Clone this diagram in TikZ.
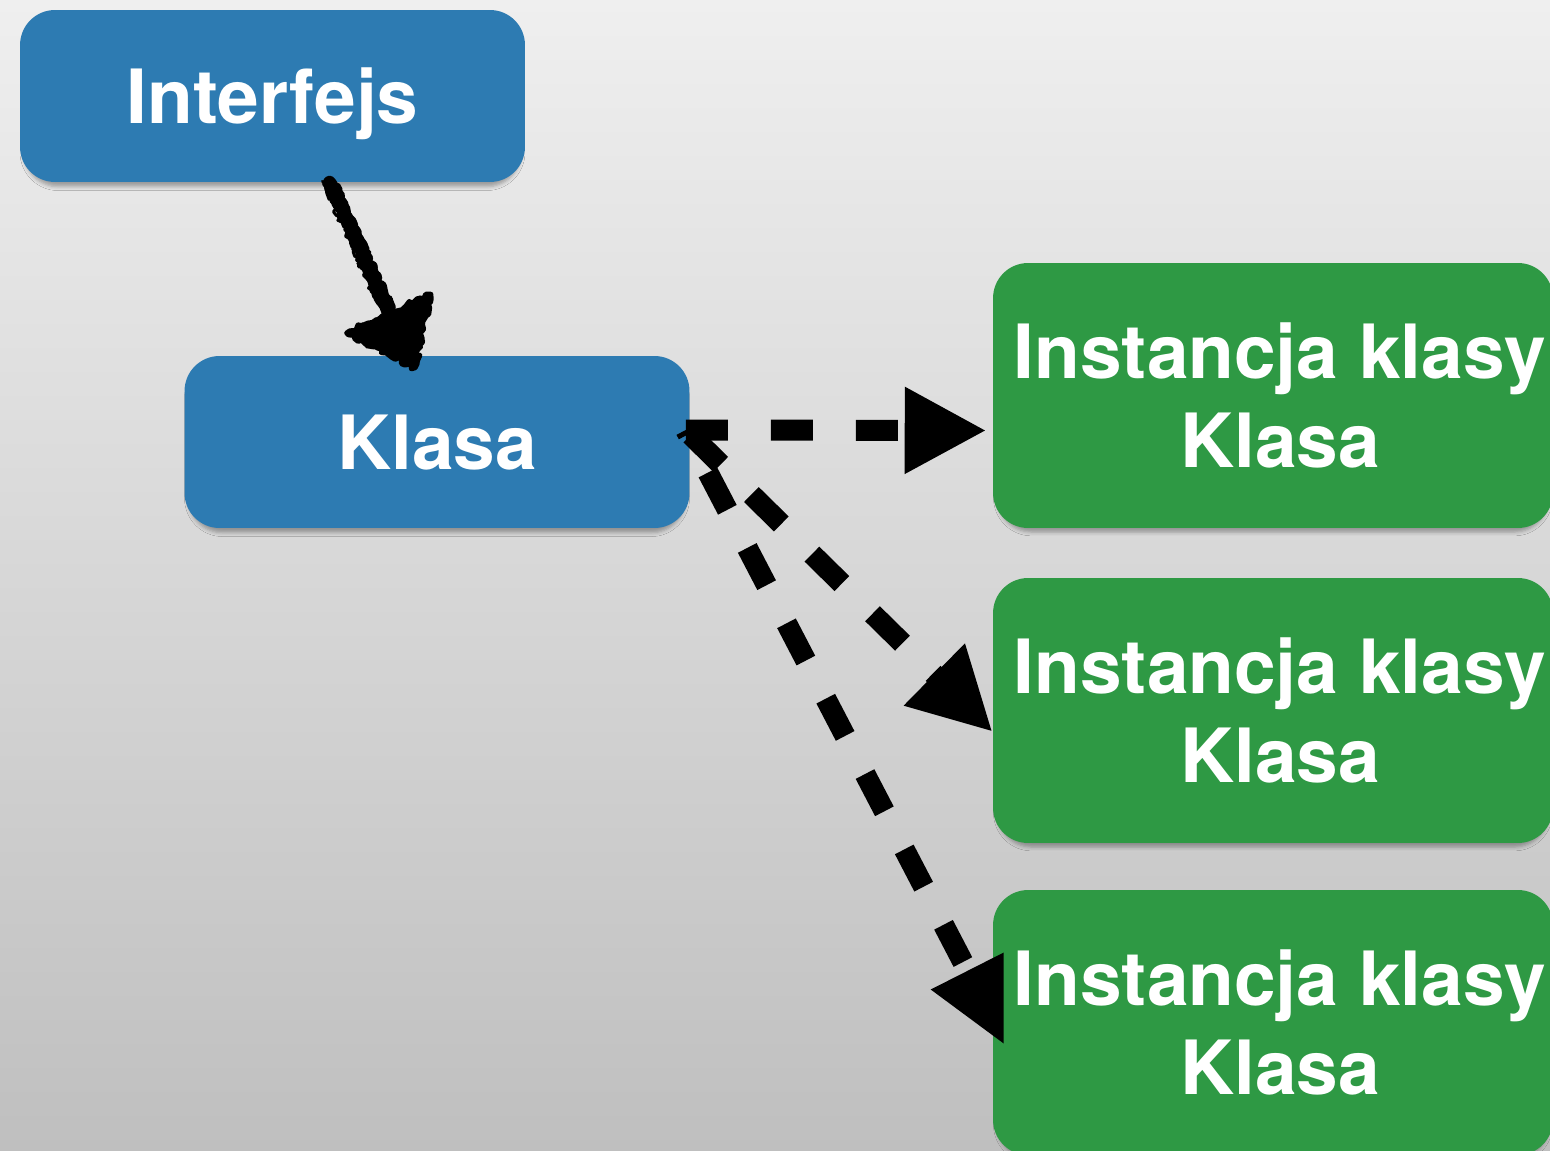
\documentclass[tikz,border=0pt]{standalone}
\usepackage{fontspec}
\setsansfont{TeX Gyre Heros}
\usetikzlibrary{arrows.meta,calc,shadows.blur,decorations.pathmorphing}

\definecolor{bgtop}{HTML}{EFEFEF}
\definecolor{bgbot}{HTML}{BFBFBF}
\definecolor{boxblue}{HTML}{2D7BB2}
\definecolor{boxgreen}{HTML}{2E9944}

% two-line label of an instance box, nudged slightly right
\newcommand\instlabel{\hspace*{0.28cm}Instancja klasy\\\hspace*{0.28cm}Klasa}

\tikzset{
  box/.style={rounded corners=0.7cm, text=white, align=center, inner sep=0pt,
    font=\sffamily\bfseries\fontsize{42.6}{50.6}\selectfont,
    blur shadow={shadow xshift=0pt, shadow yshift=-3.5pt, shadow scale=0.985,
      shadow blur radius=2.2pt, shadow opacity=32}},
  bluebox/.style={box, fill=boxblue, minimum width=10.1cm, minimum height=3.44cm,
    text depth=0pt},
  greenbox/.style={box, fill=boxgreen, minimum width=11.2cm, minimum height=5.3cm},
  sketch/.style={draw=black, line join=round, line cap=round,
    decoration={random steps, segment length=2pt, amplitude=1.5pt}, decorate},
  dasharrow/.style={line width=0.42cm, dash pattern=on 0.84cm off 0.86cm},
  bighead/.style={-{Triangle[length=1.64cm, width=1.62cm]}}
}

\begin{document}
\begin{tikzpicture}[x=0.02cm, y=-0.02cm]
  % background
  \shade[top color=bgtop, bottom color=bgbot] (0,0) rectangle (1550,1151);
  \useasboundingbox (0,0) rectangle (1550,1151);

  % boxes
  \node[bluebox] (ifc) at (272.5,96) {Interfejs};
  \node[bluebox] (cls) at (437,442) {Klasa};
  \node[greenbox] (inst1) at (1273,395.5) {\instlabel};
  \node[greenbox] (inst2) at (1273,710.5) {\instlabel};
  \node[greenbox] (inst3) at (1273,1022.5) {\instlabel};

  % hand-drawn arrow: Interfejs -> Klasa
  \pgfmathsetseed{7}
  \coordinate (s0) at ($(ifc.south)+(57,0)$);
  \coordinate (s1) at ($(cls.north)+(-22,12)$);
  \coordinate (sb) at ($(s1)!1.2cm!(s0)$);
  \draw[sketch, line width=0.26cm] (s0) -- (sb);
  \foreach \dx/\dy in {6/1, -6/2, 4/-2, -4/0, 7/3, -7/-1} {
    \draw[sketch, line width=0.06cm] ($(s0)+(\dx,\dy)$) -- ($(sb)+(\dx,\dy)$);
  }
  \filldraw[sketch, line width=3pt]
    (s1) -- ($(sb)!0.9cm!90:(s1)$) -- ($(sb)!0.95cm!-90:(s1)$) -- cycle;
  \draw[sketch, line width=1.5pt]
    ($(s1)+(2,-3)$) -- ($(sb)!0.85cm!90:(s1)$) -- ($(sb)!0.9cm!-90:(s1)$) -- cycle;

  % instantiation arrows
  \coordinate (k0) at ($(cls.east)+(-4,-12)$);
  \draw[dasharrow, bighead] (k0) -- ($(inst1.west)+(-6,35)$);
  \draw[dasharrow, dash phase=1.56cm, bighead] (k0) -- ($(inst2.west)+(0,21.5)$);
  \coordinate (e3) at ($(inst3.west)+(-28,-57)$);
  \draw[dasharrow, dash phase=0.74cm] (k0) -- (e3);
  \fill ($(inst3.west)+(-62,-33)$) -- ($(inst3.west)+(11,-70)$)
        -- ($(inst3.west)+(11,21)$) -- cycle;
\end{tikzpicture}
\end{document}
